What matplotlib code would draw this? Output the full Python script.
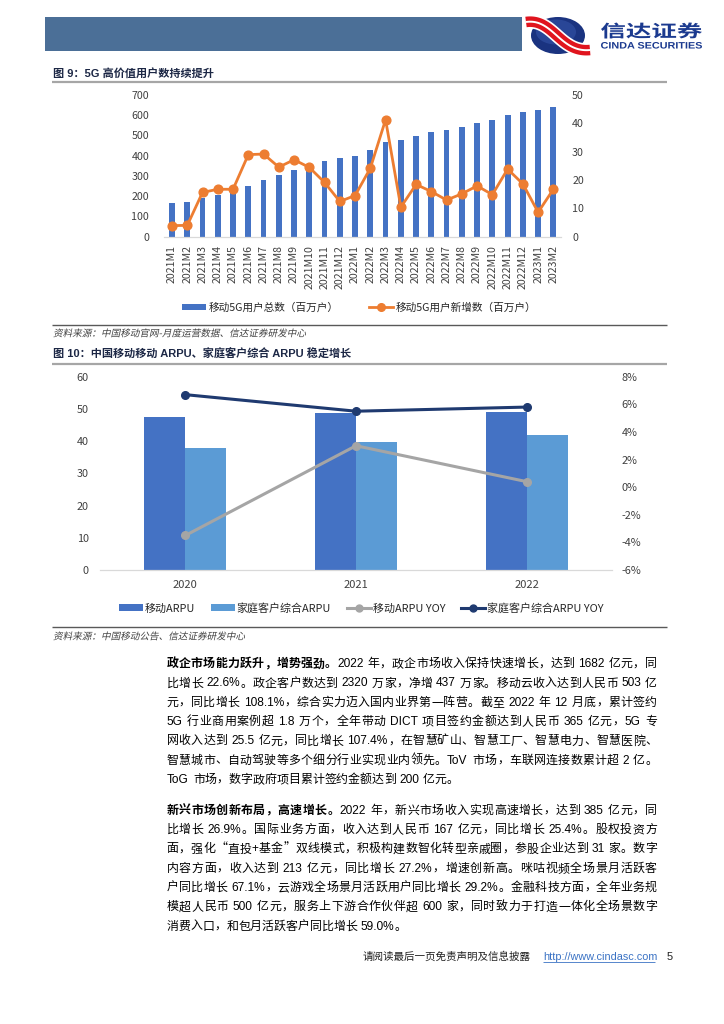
import numpy as np
import matplotlib
matplotlib.use("Agg")
import matplotlib.pyplot as plt
from matplotlib.patches import Rectangle, Ellipse, PathPatch, Patch
from matplotlib.lines import Line2D
from matplotlib.textpath import TextPath
from matplotlib.font_manager import FontProperties, findfont, get_font
from matplotlib.transforms import Affine2D

plt.rcParams['font.family'] = ['Noto Sans CJK SC', 'DejaVu Sans']

# ---------------- data ----------------
months = ['2021M1', '2021M2', '2021M3', '2021M4', '2021M5', '2021M6', '2021M7',
          '2021M8', '2021M9', '2021M10', '2021M11', '2021M12', '2022M1', '2022M2',
          '2022M3', '2022M4', '2022M5', '2022M6', '2022M7', '2022M8', '2022M9',
          '2022M10', '2022M11', '2022M12', '2023M1', '2023M2']
total_5g_users = [168, 173, 190, 207, 222, 250, 280, 304, 329, 350, 375, 387, 400,
                  425, 468, 478, 497, 514, 527, 540, 560, 573, 598, 616, 624, 641]
new_5g_users = [3.9, 4.0, 15.6, 16.7, 16.7, 28.9, 29.1, 24.5, 27.1, 24.4, 19.1, 12.4,
                14.5, 24.1, 41.2, 10.4, 18.4, 15.9, 12.9, 15.1, 17.9, 14.8, 23.8, 18.6,
                8.6, 16.7]
legend1 = ['移动5G用户总数（百万户）', '移动5G用户新增数（百万户）']

years = ['2020', '2021', '2022']
mobile_arpu = [47.4, 48.8, 49.0]
home_arpu = [37.8, 39.8, 42.0]
mobile_arpu_yoy = [-3.5, 3.0, 0.4]
home_arpu_yoy = [6.7, 5.5, 5.8]
legend2 = ['移动ARPU', '家庭客户综合ARPU', '移动ARPU YOY', '家庭客户综合ARPU YOY']

title9 = '图 9：5G 高价值用户数持续提升'
title10 = '图 10：中国移动移动 ARPU、家庭客户综合 ARPU 稳定增长'
source9 = '资料来源：中国移动官网-月度运营数据、信达证券研发中心'
source10 = '资料来源：中国移动公告、信达证券研发中心'

para1 = [
    [("政企市场能力跃升，增势强劲。", True), ("2022 年，政企市场收入保持快速增长，达到 1682 亿元，同", False)],
    [("比增长 22.6%。政企客户数达到 2320 万家，净增 437 万家。移动云收入达到人民币 503 亿", False)],
    [("元，同比增长 108.1%，综合实力迈入国内业界第一阵营。截至 2022 年 12 月底，累计签约", False)],
    [("5G 行业商用案例超 1.8 万个，全年带动 DICT 项目签约金额达到人民币 365 亿元，5G 专", False)],
    [("网收入达到 25.5 亿元，同比增长 107.4%，在智慧矿山、智慧工厂、智慧电力、智慧医院、", False)],
    [("智慧城市、自动驾驶等多个细分行业实现业内领先。ToV 市场，车联网连接数累计超 2 亿。", False)],
    [("ToG 市场，数字政府项目累计签约金额达到 200 亿元。", False)],
]
para2 = [
    [("新兴市场创新布局，高速增长。", True), ("2022 年，新兴市场收入实现高速增长，达到 385 亿元，同", False)],
    [("比增长 26.9%。国际业务方面，收入达到人民币 167 亿元，同比增长 25.4%。股权投资方", False)],
    [("面，强化“直投+基金”双线模式，积极构建数智化转型亲戚圈，参股企业达到 31 家。数字", False)],
    [("内容方面，收入达到 213 亿元，同比增长 27.2%，增速创新高。咪咕视频全场景月活跃客", False)],
    [("户同比增长 67.1%，云游戏全场景月活跃用户同比增长 29.2%。金融科技方面，全年业务规", False)],
    [("模超人民币 500 亿元，服务上下游合作伙伴超 600 家，同时致力于打造一体化全场景数字", False)],
    [("消费入口，和包月活跃客户同比增长 59.0%。", False)],
]

# ---------------- figure / page ----------------
W, H = 724, 1024
fig = plt.figure(figsize=(W / 100, H / 100), dpi=100)
fig.patch.set_facecolor('white')

pax = fig.add_axes([0, 0, 1, 1])
pax.set_xlim(0, W)
pax.set_ylim(H, 0)
pax.axis('off')


def px_axes(l, t, r, b):
    return fig.add_axes([l / W, 1 - b / H, (r - l) / W, (b - t) / H])


def hline(y, x0, x1, color, lw):
    pax.plot([x0, x1], [y, y], color=color, lw=lw, solid_capstyle='butt')


def path_text(s, x, y_base, size_px, family, weight='normal', color='k', skew=0.0,
              fit=None):
    fp = FontProperties(family=family, weight=weight)
    tp = TextPath((0, 0), s, size=size_px, prop=fp)
    tr = Affine2D()
    if fit is not None:
        x0, y0, x1, y1 = fit
        bb = tp.get_extents()
        tr = tr.translate(-bb.x0, -bb.y0).scale((x1 - x0) / bb.width,
                                                -(y1 - y0) / bb.height).translate(x0, y1)
    else:
        if skew:
            tr = tr.skew_deg(skew, 0)
        tr = tr.scale(1, -1).translate(x, y_base)
    pp = PathPatch(tr.transform_path(tp), facecolor=color, edgecolor='none', lw=0)
    pax.add_patch(pp)


# header band
pax.add_patch(Rectangle((45, 17), 477, 34, facecolor='#4b6f97', edgecolor='none'))

# logo
pax.add_patch(Ellipse((558, 35.5), 54, 37, facecolor='#1a3380', edgecolor='none'))
pax.add_patch(Ellipse((556, 32), 40, 25, facecolor='#3453a8', edgecolor='none', alpha=0.6))
t = np.linspace(0, 1, 80)
P0, P1, P2, P3 = np.array([526, 22]), np.array([553, 18]), np.array([560, 53]), np.array([590, 50])
curve = (((1 - t) ** 3)[:, None] * P0 + (3 * (1 - t) ** 2 * t)[:, None] * P1 +
         (3 * (1 - t) * t ** 2)[:, None] * P2 + (t ** 3)[:, None] * P3)
pax.plot(curve[:, 0], curve[:, 1], color='white', lw=10, solid_capstyle='butt')
pax.plot(curve[:, 0], curve[:, 1], color='#e0141e', lw=7.6, solid_capstyle='butt')
pax.plot(curve[:, 0], curve[:, 1], color='white', lw=1.4, solid_capstyle='butt')
path_text('信达证券', 0, 0, 20, 'Noto Sans CJK SC', 'bold', '#1b3a8f', fit=(601, 22.5, 702, 38.5))
path_text('CINDA SECURITIES', 0, 0, 20, 'Liberation Sans', 'bold', '#1b3a8f',
          fit=(601, 42, 702, 48.6))

TITLE_FAM = ['Liberation Sans', 'Noto Sans CJK SC']
pax.text(53, 76.5, title9, family=TITLE_FAM, weight='bold', fontsize=8,
         color='#1c2745', ha='left', va='baseline')
hline(82, 52, 667, '#a6a6a6', 1.6)

# ---------------- chart 1 ----------------
ax1 = px_axes(164.4, 94.7, 561, 236.7)
ax1.set_facecolor('none')
x = np.arange(len(months))
ax1.bar(x, total_5g_users, width=0.38, color='#4472C4', zorder=2)
ax1.set_xlim(-0.5, len(months) - 0.5)
ax1.set_ylim(0, 700)
ax1.set_yticks(np.arange(0, 701, 100))
ax1.set_xticks(x)
ax1.set_xticklabels(months, rotation=90, fontsize=7.6, color='#404040')
ax1.tick_params(axis='y', length=0, pad=11, labelsize=7.7, labelcolor='#404040')
ax1.tick_params(axis='x', length=0, pad=6)
for s in ['top', 'right', 'left']:
    ax1.spines[s].set_visible(False)
ax1.spines['bottom'].set_color('#d9d9d9')
ax1.spines['bottom'].set_linewidth(0.9)

ax1r = ax1.twinx()
ax1r.plot(x, new_5g_users, color='#ED7D31', lw=2.0, marker='o', ms=6.3, zorder=3)
ax1r.set_ylim(0, 50)
ax1r.set_yticks(np.arange(0, 51, 10))
ax1r.tick_params(axis='y', length=0, pad=8, labelsize=7.7, labelcolor='#404040')
for s in ax1r.spines.values():
    s.set_visible(False)

h1 = [Patch(facecolor='#4472C4', edgecolor='none'),
      Line2D([], [], color='#ED7D31', lw=2.0, marker='o', ms=5.5)]
fig.legend(h1, legend1, loc='center', bbox_to_anchor=(359 / W, 1 - 307.5 / H), ncol=2,
           frameon=False, prop=FontProperties(family='Noto Sans CJK SC', size=7.7),
           handlelength=2.2, handleheight=0.5, handletextpad=0.25, columnspacing=2.9,
           labelcolor='#262626', borderaxespad=0, borderpad=0)

hline(325, 52, 667, '#595959', 1.0)
path_text(source9, 53, 336.5, 9.6, 'Noto Sans CJK SC', color='#404040', skew=12)

pax.text(53, 358, title10, family=TITLE_FAM, weight='bold', fontsize=8,
         color='#1c2745', ha='left', va='baseline')
hline(364, 52, 667, '#a6a6a6', 1.6)

# ---------------- chart 2 ----------------
ax2 = px_axes(100, 376.7, 612, 570)
ax2.set_facecolor('none')
xs = np.arange(len(years))
ax2.bar(xs - 0.12, mobile_arpu, width=0.24, color='#4472C4', zorder=2)
ax2.bar(xs + 0.12, home_arpu, width=0.24, color='#5B9BD5', zorder=2)
ax2.set_xlim(-0.5, len(years) - 0.5)
ax2.set_ylim(0, 60)
ax2.set_yticks(np.arange(0, 61, 10))
ax2.set_xticks(xs)
ax2.set_xticklabels(years, fontsize=8, color='#404040')
ax2.tick_params(axis='y', length=0, pad=8, labelsize=7.8, labelcolor='#404040')
ax2.tick_params(axis='x', length=0, pad=7)
for s in ['top', 'right', 'left']:
    ax2.spines[s].set_visible(False)
ax2.spines['bottom'].set_color('#d9d9d9')
ax2.spines['bottom'].set_linewidth(0.9)

ax2r = ax2.twinx()
ax2r.plot(xs, mobile_arpu_yoy, color='#A5A5A5', lw=2.2, marker='o', ms=5.5, zorder=3)
ax2r.plot(xs, home_arpu_yoy, color='#1F3A70', lw=2.2, marker='o', ms=5.5, zorder=3)
ax2r.set_ylim(-6, 8)
yt = np.arange(-6, 9, 2)
ax2r.set_yticks(yt)
ax2r.set_yticklabels([f'{v}%' for v in yt])
ax2r.tick_params(axis='y', length=0, pad=7, labelsize=7.8, labelcolor='#404040')
for s in ax2r.spines.values():
    s.set_visible(False)

h2 = [Patch(facecolor='#4472C4', edgecolor='none'),
      Patch(facecolor='#5B9BD5', edgecolor='none'),
      Line2D([], [], color='#A5A5A5', lw=2.2, marker='o', ms=5),
      Line2D([], [], color='#1F3A70', lw=2.2, marker='o', ms=5)]
fig.legend(h2, legend2, loc='center', bbox_to_anchor=(361 / W, 1 - 608 / H), ncol=4,
           frameon=False, prop=FontProperties(family='Noto Sans CJK SC', size=7.9),
           handlelength=2.2, handleheight=0.6, handletextpad=0.15, columnspacing=1.45,
           labelcolor='#262626', borderaxespad=0, borderpad=0)

hline(627, 52, 667, '#595959', 1.0)
path_text(source10, 53, 639.5, 9.6, 'Noto Sans CJK SC', color='#404040', skew=12)

# ---------------- body text (justified) ----------------
BODY_PT = 8.6
LAT = 'Liberation Sans'
CJK = 'Noto Sans CJK SC'
_fc = {}


def _font(family, bold):
    key = (family, bold)
    if key not in _fc:
        _fc[key] = get_font(findfont(FontProperties(family=family,
                                                    weight='bold' if bold else 'normal')))
    f = _fc[key]
    f.set_size(BODY_PT, 100)
    return f


def _adv(s, family, bold):
    f = _font(family, bold)
    return sum(f.load_char(ord(c)).linearHoriAdvance / 65536 for c in s)


def _tokens(seg, bold):
    out = []
    buf = ''
    for ch in seg:
        if ch == ' ':
            if buf:
                out.append((buf, LAT, bold, True)); buf = ''
            out.append((' ', LAT, bold, False))
        elif ord(ch) < 128:
            buf += ch
        else:
            if buf:
                out.append((buf, LAT, bold, True)); buf = ''
            out.append((ch, CJK, bold, True))
    if buf:
        out.append((buf, LAT, bold, True))
    return out


def draw_line(segs, x0, x1, y_base, justify):
    toks = []
    for seg, bold in segs:
        toks += _tokens(seg, bold)
    widths = [_adv(tk[0], tk[1], tk[2]) for tk in toks]
    natural = sum(widths)
    extra = 0.0
    if justify and len(toks) > 1:
        extra = max(0.0, (x1 - x0 - natural) / (len(toks) - 1))
    x = x0
    for (s, fam, bold, vis), w in zip(toks, widths):
        if vis:
            pax.text(x, y_base, s, family=fam, weight='bold' if bold else 'normal',
                     fontsize=BODY_PT, color='#000000', ha='left', va='baseline')
        x += w + extra


X0, X1 = 166.5, 657
LS = 19.3
for i, ln in enumerate(para1):
    draw_line(ln, X0, X1, 667.2 + i * LS, justify=(i < len(para1) - 1))
for i, ln in enumerate(para2):
    draw_line(ln, X0, X1, 813.8 + i * LS, justify=(i < len(para2) - 1))

# ---------------- footer ----------------
pax.text(363, 959.5, '请阅读最后一页免责声明及信息披露', family='Noto Sans CJK SC', fontsize=7.6,
         color='#222222', ha='left', va='baseline')
pax.text(543, 959.5, 'http://www.cindasc.com', family='Liberation Sans', fontsize=7.8,
         color='#3a72c4', ha='left', va='baseline')
hline(961.5, 543, 655, '#3a72c4', 0.6)
pax.text(667, 959.5, '5', family='Liberation Sans', fontsize=8, color='#222222',
         ha='left', va='baseline')

fig.savefig('out.png', dpi=100, facecolor='white')
